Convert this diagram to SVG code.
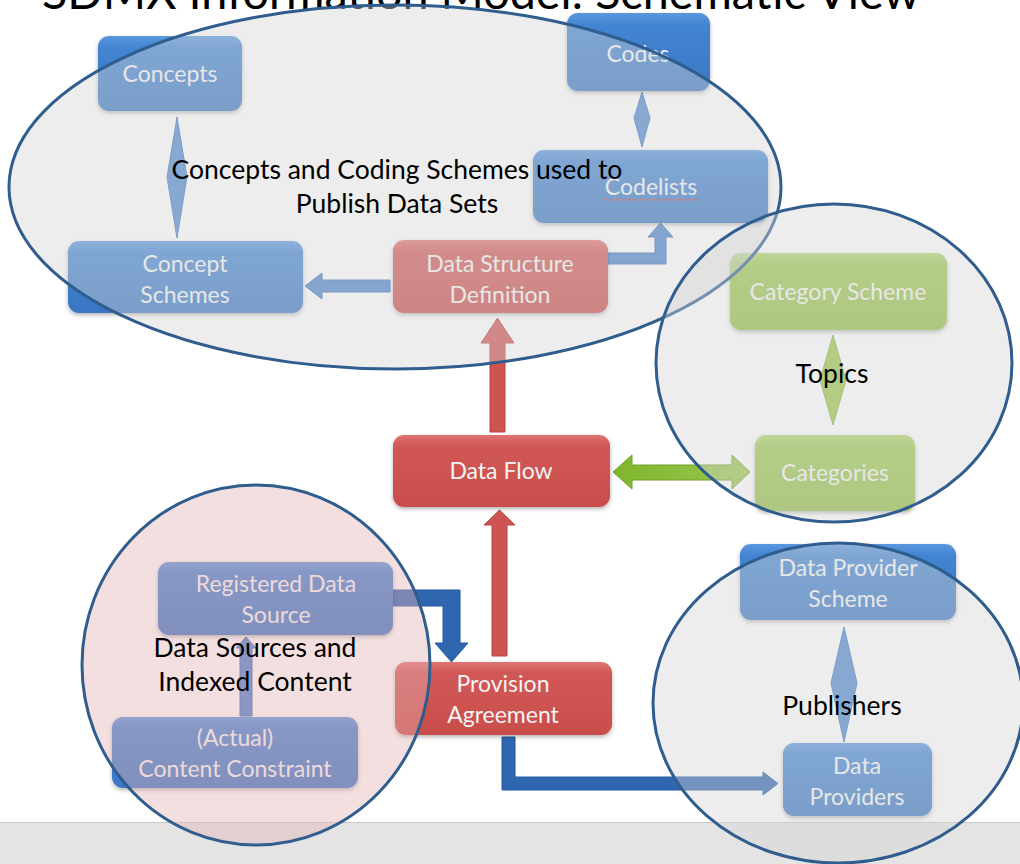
<svg xmlns="http://www.w3.org/2000/svg" width="1020" height="864" viewBox="0 0 1020 864">
<defs>
<linearGradient id="gBlue" x1="0" y1="0" x2="0" y2="1">
<stop offset="0" stop-color="#5a98de"/><stop offset="0.15" stop-color="#4385d2"/><stop offset="1" stop-color="#3a76c3"/>
</linearGradient>
<linearGradient id="gRed" x1="0" y1="0" x2="0" y2="1">
<stop offset="0" stop-color="#e07472"/><stop offset="0.15" stop-color="#d05856"/><stop offset="1" stop-color="#c94d4b"/>
</linearGradient>
<linearGradient id="gGreen" x1="0" y1="0" x2="0" y2="1">
<stop offset="0" stop-color="#b2d670"/><stop offset="0.15" stop-color="#9dc850"/><stop offset="1" stop-color="#93bd46"/>
</linearGradient>
<linearGradient id="gGreenArrow" x1="0" y1="0" x2="1" y2="0">
<stop offset="0" stop-color="#7fb52c"/><stop offset="1" stop-color="#9cc852"/>
</linearGradient>
<filter id="shadow" x="-10%" y="-10%" width="120%" height="130%">
<feDropShadow dx="0" dy="2" stdDeviation="2" flood-color="#000" flood-opacity="0.3"/>
</filter>
<style>
.box{stroke:none;filter:url(#shadow)}
.blue{fill:url(#gBlue)}
.red{fill:url(#gRed)}
.green{fill:url(#gGreen)}
.bt{font-family:Lato,"Liberation Sans",sans-serif;font-size:23px;fill:#f4f4f4;text-anchor:middle}
.lbl{font-family:Lato,"Liberation Sans",sans-serif;font-size:26.5px;fill:#000;text-anchor:middle}
.region{fill:#d4d4d4;fill-opacity:0.42;stroke:#2f5d8e;stroke-width:3}
.pink{fill:#e5b3b5;fill-opacity:0.42;stroke:#2f5d8e;stroke-width:3}
.arB{fill:#4b84cc;stroke:#3a6fb5;stroke-width:1}
.arD{fill:#2f66b0;stroke:#24589e;stroke-width:1}
.arR{fill:#cd5452;stroke:#b84543;stroke-width:1}
.dia{fill:#5089cf;stroke:#3f77bf;stroke-width:1}
.diaG{fill:#9ac64b;stroke:#86b13a;stroke-width:1}
</style>
</defs>
<rect x="0" y="0" width="1020" height="864" fill="#ffffff"/>
<rect x="0" y="822" width="1020" height="42" fill="#e4e4e4"/>
<line x1="0" y1="822.5" x2="1020" y2="822.5" stroke="#c8c8c8" stroke-width="1"/>
<text x="42" y="9" font-family="Lato,'Liberation Sans',sans-serif" font-size="46" fill="#000" textLength="878" lengthAdjust="spacingAndGlyphs">SDMX Information Model: Schematic View</text>

<g id="connectors">
<polygon class="arB" points="390,280 322,280 322,273 305,286 322,299 322,292 390,292"/>
<polygon class="arB" points="608,253 655,253 655,237 648,237 660.5,223 673,237 666,237 666,264 608,264"/>
<polygon class="arR" points="490,432 490,343 481,343 497.5,318 514,343 505,343 505,432"/>
<polygon class="arR" points="492,656 492,525 484,525 499.5,510 515,525 507,525 507,656"/>
<polygon fill="url(#gGreenArrow)" stroke="#6e9e27" stroke-width="1" points="613,472 632,455 632,465 732,465 732,455 750,472 732,489 732,480 632,480 632,489"/>
<polygon class="arD" points="393,590 460,590 460,643 468,643 451.5,662 435,643 443,643 443,606 393,606"/>
<polygon class="arD" points="502,737 515,737 515,777 763,777 763,772 778,783.5 763,795 763,790 502,790"/>
<polygon class="arB" points="240,716 240,648 236,648 246,637 256,648 252,648 252,716"/>
<polygon class="dia" points="177,117 187,177 177,238 167,177"/>
<polygon class="dia" points="642,92 650,118 642,147 634,118"/>
<polygon class="diaG" points="833,335 846,380 833,425 820,380"/>
<polygon class="dia" points="844,627 857,683 844,742 831,683"/>
</g>

<g id="node-concepts">
<rect class="box blue" x="98" y="36" width="144" height="75" rx="11"/>
<text class="bt" x="170" y="82">Concepts</text>
</g>
<g id="node-codes">
<rect class="box blue" x="567" y="13" width="143" height="78" rx="11"/>
<text class="bt" x="638" y="62">Codes</text>
</g>
<g id="node-codelists">
<rect class="box blue" x="533" y="150" width="235" height="73" rx="11"/>
<text class="bt" x="651" y="195">Codelists</text>
<path d="M604,200 q1.5,-2 3,0 t3,0 t3,0 t3,0 t3,0 t3,0 t3,0 t3,0 t3,0 t3,0 t3,0 t3,0 t3,0 t3,0 t3,0 t3,0 t3,0 t3,0 t3,0 t3,0 t3,0 t3,0 t3,0 t3,0 t3,0 t3,0 t3,0 t3,0 t3,0 t3,0 t3,0" fill="none" stroke="#e03a3a" stroke-width="1"/>
</g>
<g id="node-concept-schemes">
<rect class="box blue" x="68" y="241" width="235" height="72" rx="11"/>
<text class="bt" x="185" y="272">Concept</text>
<text class="bt" x="185" y="303">Schemes</text>
</g>
<g id="node-dsd">
<rect class="box red" x="393" y="240" width="215" height="73" rx="11"/>
<text class="bt" x="500" y="272">Data Structure</text>
<text class="bt" x="500" y="303">Definition</text>
</g>
<g id="node-category-scheme">
<rect class="box green" x="730" y="253" width="217" height="77" rx="11"/>
<text class="bt" x="838" y="300">Category Scheme</text>
</g>
<g id="node-categories">
<rect class="box green" x="755" y="435" width="160" height="76" rx="11"/>
<text class="bt" x="835" y="481">Categories</text>
</g>
<g id="node-data-flow">
<rect class="box red" x="393" y="435" width="217" height="72" rx="11"/>
<text class="bt" x="501" y="479">Data Flow</text>
</g>
<g id="node-registered-data-source">
<rect class="box blue" x="158" y="562" width="235" height="73" rx="11"/>
<text class="bt" x="276" y="592">Registered Data</text>
<text class="bt" x="276" y="623">Source</text>
</g>
<g id="node-content-constraint">
<rect class="box blue" x="112" y="717" width="246" height="71" rx="11"/>
<text class="bt" x="235" y="746">(Actual)</text>
<text class="bt" x="235" y="777">Content Constraint</text>
</g>
<g id="node-provision-agreement">
<rect class="box red" x="395" y="662" width="217" height="73" rx="11"/>
<text class="bt" x="503" y="692">Provision</text>
<text class="bt" x="503" y="723">Agreement</text>
</g>
<g id="node-data-provider-scheme">
<rect class="box blue" x="740" y="544" width="216" height="76" rx="11"/>
<text class="bt" x="848" y="576">Data Provider</text>
<text class="bt" x="848" y="607">Scheme</text>
</g>
<g id="node-data-providers">
<rect class="box blue" x="783" y="743" width="149" height="73" rx="11"/>
<text class="bt" x="857" y="774">Data</text>
<text class="bt" x="857" y="805">Providers</text>
</g>

<g id="regions">
<ellipse class="region" cx="395" cy="187" rx="386" ry="182"/>
<ellipse class="region" cx="834" cy="363" rx="178" ry="159"/>
<ellipse class="pink" cx="256" cy="665" rx="174" ry="180"/>
<ellipse class="region" cx="838" cy="703" rx="185" ry="160"/>
</g>

<g id="labels">
<text class="lbl" x="397" y="179">Concepts and Coding Schemes used to</text>
<text class="lbl" x="397" y="213">Publish Data Sets</text>
<text class="lbl" x="832" y="383">Topics</text>
<text class="lbl" x="255" y="657">Data Sources and</text>
<text class="lbl" x="255" y="691">Indexed Content</text>
<text class="lbl" x="842" y="715">Publishers</text>
</g>
</svg>
